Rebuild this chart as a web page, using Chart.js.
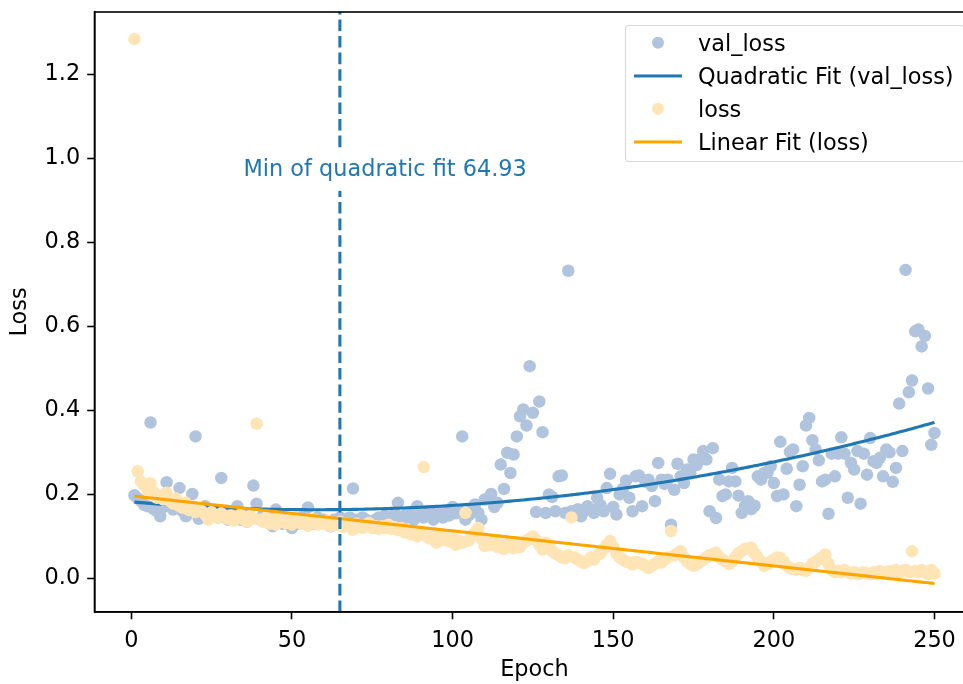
<!DOCTYPE html>
<html>
<head>
<meta charset="utf-8">
<title>Loss per epoch</title>
<script src="https://cdn.jsdelivr.net/npm/chart.js@4.4.1/dist/chart.umd.min.js"></script>
<style>
  html, body { margin: 0; padding: 0; background: #fff; }
  #wrap { position: relative; width: 963px; height: 684px; overflow: hidden; }
  #lossChart { position: absolute; left: 0; top: 0; }
  #legend {
    position: absolute; left: 625px; top: 25px; width: 340px;
    box-sizing: border-box; padding: 0 0 3px 0;
    border: 1.5px solid rgba(204, 204, 204, 0.8); border-radius: 4px;
    background: rgba(255, 255, 255, 0.8);
    font: 22.4px "DejaVu Sans", sans-serif; color: #000;
  }
  #legend .row { position: relative; height: 33px; }
  #legend .mk { position: absolute; top: 50%; transform: translateY(-50%); }
  #legend .tx { position: absolute; left: 72px; top: 50%; transform: translateY(-50%); line-height: 1; white-space: nowrap; }
</style>
</head>
<body>
<div id="wrap">
  <canvas id="lossChart" width="976" height="684"></canvas>
  <div id="legend"></div>
</div>
<script>
// valeurs, une par epoch (epoch = index + 1)
const valLoss = [
  0.198, 0.190, 0.185, 0.175, 0.172, 0.371, 0.165, 0.160, 0.148, 0.170,
  0.229, 0.175, 0.164, 0.170, 0.215, 0.160, 0.148, 0.165, 0.201, 0.338,
  0.142, 0.160, 0.172, 0.155, 0.150, 0.160, 0.145, 0.239, 0.150, 0.140,
  0.155, 0.145, 0.172, 0.140, 0.150, 0.135, 0.145, 0.221, 0.178, 0.140,
  0.150, 0.135, 0.145, 0.124, 0.164, 0.140, 0.130, 0.145, 0.135, 0.120,
  0.140, 0.130, 0.145, 0.135, 0.169, 0.140, 0.130, 0.145, 0.135, 0.140,
  0.130, 0.124, 0.140, 0.135, 0.145, 0.140, 0.130, 0.145, 0.214, 0.140,
  0.135, 0.145, 0.140, 0.130, 0.124, 0.140, 0.145, 0.135, 0.150, 0.140,
  0.145, 0.155, 0.180, 0.140, 0.150, 0.145, 0.155, 0.140, 0.172, 0.150,
  0.145, 0.155, 0.160, 0.140, 0.150, 0.155, 0.145, 0.160, 0.150, 0.170,
  0.155, 0.160, 0.338, 0.140, 0.150, 0.165, 0.176, 0.156, 0.140, 0.188,
  0.190, 0.201, 0.170, 0.180, 0.271, 0.213, 0.299, 0.251, 0.295, 0.338,
  0.386, 0.402, 0.364, 0.505, 0.394, 0.158, 0.421, 0.348, 0.156, 0.200,
  0.194, 0.160, 0.243, 0.245, 0.156, 0.732, 0.160, 0.152, 0.165, 0.148,
  0.160, 0.172, 0.165, 0.156, 0.192, 0.175, 0.160, 0.215, 0.249, 0.170,
  0.152, 0.200, 0.213, 0.233, 0.192, 0.160, 0.243, 0.245, 0.172, 0.230,
  0.235, 0.220, 0.184, 0.275, 0.235, 0.225, 0.235, 0.128, 0.211, 0.273,
  0.243, 0.227, 0.259, 0.250, 0.283, 0.270, 0.283, 0.303, 0.283, 0.160,
  0.310, 0.144, 0.235, 0.196, 0.200, 0.231, 0.263, 0.231, 0.197, 0.156,
  0.172, 0.184, 0.165, 0.173, 0.243, 0.235, 0.251, 0.251, 0.267, 0.227,
  0.196, 0.325, 0.200, 0.261, 0.301, 0.307, 0.172, 0.223, 0.267, 0.364,
  0.382, 0.329, 0.307, 0.281, 0.231, 0.235, 0.154, 0.297, 0.243, 0.297,
  0.336, 0.297, 0.192, 0.275, 0.259, 0.303, 0.178, 0.297, 0.247, 0.334,
  0.279, 0.275, 0.287, 0.243, 0.307, 0.300, 0.230, 0.263, 0.416, 0.303,
  0.734, 0.443, 0.471, 0.588, 0.592, 0.552, 0.577, 0.452, 0.318, 0.346
];

const loss = [
  1.283, 0.255, 0.231, 0.222, 0.211, 0.226, 0.205, 0.192, 0.196, 0.188,
  0.204, 0.185, 0.178, 0.190, 0.172, 0.168, 0.180, 0.163, 0.172, 0.158,
  0.165, 0.160, 0.152, 0.140, 0.158, 0.150, 0.145, 0.155, 0.148, 0.142,
  0.150, 0.138, 0.145, 0.152, 0.140, 0.135, 0.148, 0.142, 0.368, 0.140,
  0.135, 0.145, 0.130, 0.140, 0.128, 0.145, 0.138, 0.132, 0.140, 0.128,
  0.135, 0.142, 0.130, 0.138, 0.125, 0.135, 0.140, 0.128, 0.135, 0.130,
  0.138, 0.125, 0.132, 0.128, 0.135, 0.122, 0.130, 0.125, 0.116, 0.130,
  0.125, 0.120, 0.128, 0.132, 0.120, 0.125, 0.118, 0.124, 0.120, 0.128,
  0.118, 0.122, 0.115, 0.120, 0.110, 0.115, 0.105, 0.112, 0.100, 0.108,
  0.265, 0.100, 0.095, 0.105, 0.085, 0.100, 0.092, 0.098, 0.088, 0.095,
  0.080, 0.090, 0.085, 0.156, 0.090, 0.100, 0.110, 0.120, 0.095, 0.077,
  0.085, 0.080, 0.090, 0.075, 0.082, 0.070, 0.075, 0.085, 0.072, 0.080,
  0.075, 0.085, 0.090, 0.095, 0.100, 0.092, 0.080, 0.069, 0.085, 0.075,
  0.065, 0.060, 0.055, 0.050, 0.048, 0.055, 0.145, 0.050, 0.045, 0.040,
  0.037, 0.042, 0.050, 0.045, 0.055, 0.060, 0.070, 0.080, 0.089, 0.075,
  0.060, 0.050, 0.045, 0.040, 0.038, 0.033, 0.040, 0.037, 0.035, 0.030,
  0.025, 0.030, 0.035, 0.040, 0.038, 0.045, 0.050, 0.113, 0.055, 0.060,
  0.065, 0.050, 0.040, 0.035, 0.030, 0.033, 0.040, 0.045, 0.050, 0.055,
  0.058, 0.061, 0.050, 0.045, 0.040, 0.035, 0.040, 0.050, 0.060, 0.065,
  0.070, 0.072, 0.073, 0.060, 0.050, 0.040, 0.030, 0.035, 0.040, 0.045,
  0.050, 0.049, 0.040, 0.030, 0.025, 0.022, 0.021, 0.025, 0.020, 0.018,
  0.025, 0.035, 0.040, 0.045, 0.050, 0.057, 0.035, 0.020, 0.015, 0.018,
  0.015, 0.020, 0.015, 0.012, 0.015, 0.010, 0.012, 0.015, 0.012, 0.010,
  0.015, 0.012, 0.018, 0.015, 0.012, 0.018, 0.015, 0.020, 0.015, 0.018,
  0.020, 0.015, 0.065, 0.018, 0.015, 0.020, 0.015, 0.010, 0.020, 0.012
];

const xTicks = [0, 50, 100, 150, 200, 250];
const yTicks = [0.0, 0.2, 0.4, 0.6, 0.8, 1.0, 1.2];

// annotation du minimum de l'ajustement quadratique
const minEpoch = 64.93;
const minLabel = 'Min of quadratic fit 64.93';
const labelAt = { x: 34.93, y: 0.972 };

const X_MIN = -11.45, X_MAX = 262.45;
const Y_MIN = -0.0797, Y_MAX = 1.3475;
const FONT = '"DejaVu Sans", sans-serif';
const FS = 22.4;

const epochs = valLoss.map((_, i) => i + 1);

// moindres carrés (équations normales), coefficients du degré 0 au degré deg
function polyfit(xs, ys, deg) {
  const n = deg + 1;
  const A = Array.from({ length: n }, () => new Array(n + 1).fill(0));
  xs.forEach((x, k) => {
    for (let i = 0; i < n; i++) {
      for (let j = 0; j < n; j++) A[i][j] += Math.pow(x, i + j);
      A[i][n] += ys[k] * Math.pow(x, i);
    }
  });
  for (let c = 0; c < n; c++) {
    let p = c;
    for (let r = c + 1; r < n; r++) if (Math.abs(A[r][c]) > Math.abs(A[p][c])) p = r;
    [A[c], A[p]] = [A[p], A[c]];
    for (let r = 0; r < n; r++) {
      if (r === c) continue;
      const f = A[r][c] / A[c][c];
      for (let k = c; k <= n; k++) A[r][k] -= f * A[c][k];
    }
  }
  return A.map((row, i) => row[n] / row[i]);
}

const evalPoly = (c, x) => c.reduce((s, v, i) => s + v * Math.pow(x, i), 0);
const quadCoef = polyfit(epochs, valLoss, 2);
const linCoef = polyfit(epochs, loss, 1);

const pts = (ys) => ys.map((y, i) => ({ x: epochs[i], y }));

// cadre complet autour de la zone de tracé
const framePlugin = {
  id: 'frame',
  afterDraw(chart) {
    const { ctx, chartArea: a } = chart;
    ctx.save();
    ctx.strokeStyle = '#000';
    ctx.lineWidth = 1.6;
    ctx.strokeRect(a.left, a.top, a.right - a.left, a.bottom - a.top);
    ctx.restore();
  }
};

const minLabelPlugin = {
  id: 'minLabel',
  afterDatasetsDraw(chart) {
    const { ctx, scales: { x, y } } = chart;
    const px = x.getPixelForValue(labelAt.x);
    const py = y.getPixelForValue(labelAt.y);
    ctx.save();
    ctx.font = FS + 'px ' + FONT;
    const w = ctx.measureText(minLabel).width;
    ctx.fillStyle = '#fff';
    ctx.fillRect(px - 4, py - 21, w + 8, 42);
    ctx.fillStyle = '#1f77b4';
    ctx.textBaseline = 'middle';
    ctx.textAlign = 'left';
    ctx.fillText(minLabel, px, py);
    ctx.restore();
  }
};

const chart = new Chart(document.getElementById('lossChart'), {
  type: 'scatter',
  data: {
    datasets: [
      {
        label: 'val_loss',
        data: pts(valLoss),
        backgroundColor: '#b0c4de',
        borderWidth: 0,
        pointRadius: 6.25,
        order: 4,
        legendKind: 'dot'
      },
      {
        type: 'line',
        label: 'Quadratic Fit (val_loss)',
        data: pts(epochs.map(e => evalPoly(quadCoef, e))),
        borderColor: '#1f77b4',
        borderWidth: 3.1,
        pointRadius: 0,
        fill: false,
        order: 3,
        legendKind: 'line'
      },
      {
        label: 'loss',
        data: pts(loss),
        backgroundColor: '#ffe4b5',
        borderWidth: 0,
        pointRadius: 6.25,
        order: 2,
        legendKind: 'dot'
      },
      {
        type: 'line',
        label: 'Linear Fit (loss)',
        data: pts(epochs.map(e => evalPoly(linCoef, e))),
        borderColor: '#ffa500',
        borderWidth: 3.1,
        pointRadius: 0,
        fill: false,
        order: 1,
        legendKind: 'line'
      },
      {
        type: 'line',
        label: '',
        data: [{ x: minEpoch, y: Y_MIN }, { x: minEpoch, y: Y_MAX }],
        borderColor: '#1f77b4',
        borderWidth: 3.1,
        borderDash: [11.6, 5],
        pointRadius: 0,
        fill: false,
        order: 0
      }
    ]
  },
  options: {
    responsive: false,
    animation: false,
    devicePixelRatio: 1,
    layout: { autoPadding: false, padding: { top: 12, right: 1.5, left: 0, bottom: 0 } },
    plugins: {
      legend: { display: false },
      tooltip: { enabled: false }
    },
    scales: {
      x: {
        type: 'linear',
        min: X_MIN,
        max: X_MAX,
        afterBuildTicks: (s) => { s.ticks = xTicks.map(v => ({ value: v })); },
        afterFit: (s) => { s.height = 72; s.paddingLeft = 0; s.paddingRight = 0; },
        grid: { drawOnChartArea: false, drawTicks: true, tickLength: 7.3, tickWidth: 1.6, tickColor: '#000' },
        border: { display: true, color: '#000', width: 1.6 },
        ticks: { color: '#000', padding: 8, maxRotation: 0, font: { family: FONT, size: FS } },
        title: { display: true, text: 'Epoch', color: '#000', padding: { top: 0, bottom: 0 }, font: { family: FONT, size: FS } }
      },
      y: {
        type: 'linear',
        min: Y_MIN,
        max: Y_MAX,
        afterBuildTicks: (s) => { s.ticks = yTicks.map(v => ({ value: v })); },
        afterFit: (s) => { s.width = 94.5; s.paddingTop = 0; s.paddingBottom = 0; },
        grid: { drawOnChartArea: false, drawTicks: true, tickLength: 7.3, tickWidth: 1.6, tickColor: '#000' },
        border: { display: true, color: '#000', width: 1.6 },
        ticks: { color: '#000', padding: 7, callback: (v) => Number(v).toFixed(1), font: { family: FONT, size: FS } },
        title: { display: true, text: 'Loss', color: '#000', padding: { top: 6.5, bottom: 0 }, font: { family: FONT, size: FS } }
      }
    }
  },
  plugins: [framePlugin, minLabelPlugin]
});

// légende HTML en haut à droite, comme celle de matplotlib
const legendEl = document.getElementById('legend');
chart.data.datasets.filter(d => d.legendKind).forEach(d => {
  const row = document.createElement('div');
  row.className = 'row';
  const mk = document.createElement('span');
  mk.className = 'mk';
  if (d.legendKind === 'dot') {
    Object.assign(mk.style, { left: '25.5px', width: '12.5px', height: '12.5px', borderRadius: '50%', background: d.backgroundColor });
  } else {
    Object.assign(mk.style, { left: '7.5px', width: '48px', height: '3.1px', background: d.borderColor });
  }
  const tx = document.createElement('span');
  tx.className = 'tx';
  tx.textContent = d.label;
  row.appendChild(mk);
  row.appendChild(tx);
  legendEl.appendChild(row);
});
</script>
</body>
</html>
